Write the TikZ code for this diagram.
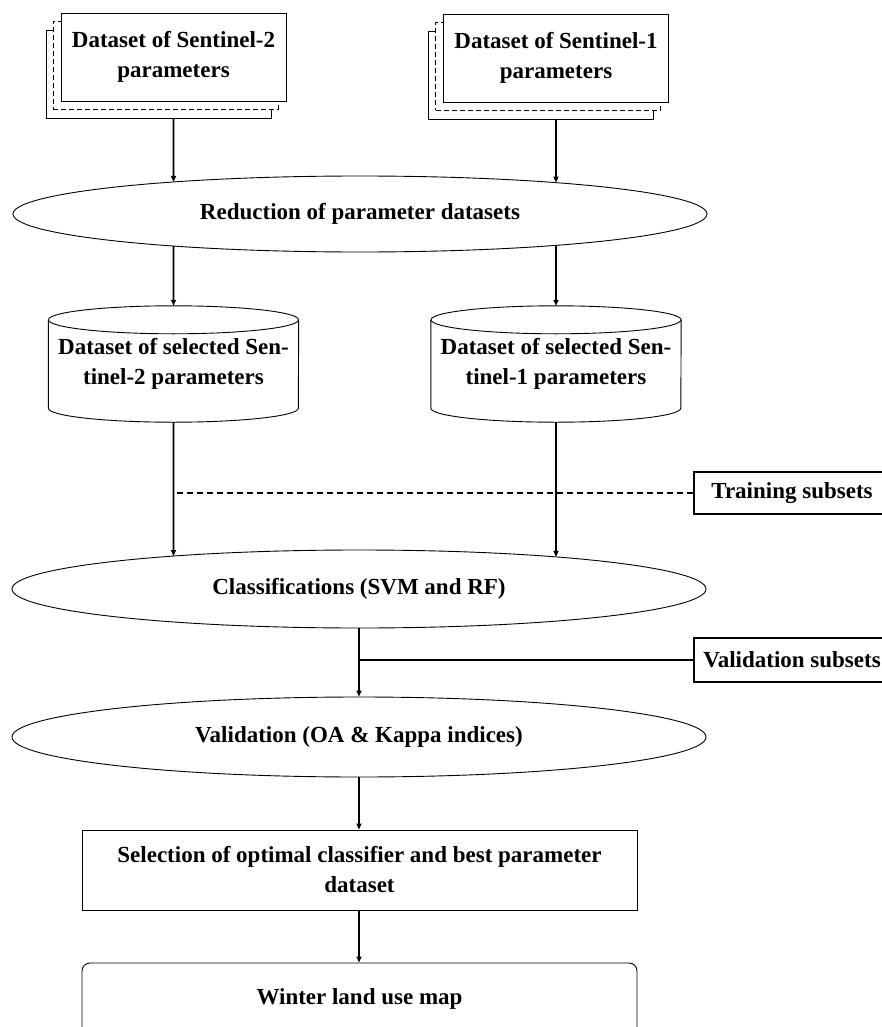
\documentclass[tikz,border=0pt]{standalone}
\usepackage{fontspec}
\setmainfont{Liberation Serif}
\usetikzlibrary{arrows.meta,shadows,intersections,shapes.geometric,calc}
\begin{document}
\begin{tikzpicture}[x=1pt,y=-1pt,
  font=\fontsize{23}{30}\selectfont\bfseries,
  shapeline/.style={draw=black, line width=0.9pt},
  docbox/.style={shapeline, fill=white, minimum width=225pt, minimum height=88pt, inner sep=0pt, align=center,
    general shadow={shadow xshift=-15pt, shadow yshift=-17pt, fill=white, draw=black, line width=0.9pt},
    general shadow={shadow xshift=-8pt, shadow yshift=-8pt, fill=white, draw=black, line width=0.9pt, dash pattern=on 5pt off 3pt}},
  ell/.style={ellipse, shapeline, fill=white, inner sep=0pt, minimum width=694pt},
  plainbox/.style={shapeline, fill=white, inner sep=0pt, align=center, minimum width=555pt},
  sidebox/.style={draw=black, line width=1.8pt, fill=white, inner sep=0pt, minimum width=196pt, anchor=center},
  conn/.style={draw=black, line width=1.6pt},
  arr/.style={conn, -{Triangle[length=6pt,width=5pt]}},
  dashline/.style={draw=black, line width=1.9pt, dash pattern=on 6.5pt off 3.5pt}
]
\useasboundingbox (0,0) rectangle (881,1027);

% input datasets
\node[docbox] (s2) at (173.5,57) {Dataset of Sentinel-2\\parameters};
\node[docbox] (s1) at (556,58) {Dataset of Sentinel-1\\parameters};

% reduction
\node[ell, minimum height=76pt] (red) at (360,214) {Reduction of parameter datasets};

% cylinders
\node[inner sep=0pt, minimum width=250pt, minimum height=116pt, align=center] (cyl2) at (173.5,364) {Dataset of selected Sen-\\tinel-2 parameters};
\node[inner sep=0pt, minimum width=250pt, minimum height=116pt, align=center] (cyl1) at (556,364) {Dataset of selected Sen-\\tinel-1 parameters};
\foreach \c in {cyl2,cyl1}{
  \draw[shapeline] ([yshift=-14pt]\c.north west) -- ([yshift=14pt]\c.south west)
     arc[start angle=180, end angle=360, x radius=125pt, y radius=14pt]
     -- ([yshift=-14pt]\c.north east);
  \draw[shapeline] ([yshift=-14pt]\c.north) ellipse [x radius=125pt, y radius=14pt];
}

% classification and validation
\node[ell, minimum height=78pt] (cls) at (359,589) {Classifications (SVM and RF)};
\node[ell, minimum height=80pt] (val) at (359,737) {Validation (OA \& Kappa indices)};

% side boxes
\node[sidebox, minimum height=42pt] (train) at (792,493) {Training subsets};
\node[sidebox, minimum height=44pt] (vsub) at (792,660) {Validation subsets};

% selection and map
\node[plainbox, minimum height=80pt] (sel) at (359.5,870) {Selection of optimal classifier and best parameter\\dataset};
\node[plainbox, rounded corners=8pt, minimum height=72pt] (map) at (359.5,999) {Winter land use map};

% helper paths for border points
\path[name path=redE] (red.center) ellipse [x radius=347pt, y radius=38pt];
\path[name path=clsE] (cls.center) ellipse [x radius=347pt, y radius=39pt];
\path[name path=colA] (s2.south) -- (s2.south |- val.center);
\path[name path=colB] (s1.south) -- (s1.south |- val.center);
\path[name intersections={of=colA and redE, sort by=colA, by={rA1,rA2}}];
\path[name intersections={of=colB and redE, sort by=colB, by={rB1,rB2}}];
\path[name intersections={of=colA and clsE, sort by=colA, by={cA1,cA2}}];
\path[name intersections={of=colB and clsE, sort by=colB, by={cB1,cB2}}];

% connectors
\draw[arr] ([yshift=-17pt]s2.south) -- (rA1);
\draw[arr] ([yshift=-17pt]s1.south) -- (rB1);
\draw[arr] (rA2) -- (cyl2.north);
\draw[arr] (rB2) -- (cyl1.north);
\draw[arr] (cyl2.south) -- (cA1);
\draw[arr] (cyl1.south) -- (cB1);
\draw[dashline] (train.west) -- ($(train.west -| cyl2.south)+(3,0)$);
\draw[conn] (vsub.west) -- (vsub.west -| cls.south);
\draw[arr] (cls.south) -- (val.north);
\draw[arr] (val.south) -- (val.south |- sel.north);
\draw[arr] (sel.south -| val.south) -- (val.south |- map.north);
\end{tikzpicture}
\end{document}
